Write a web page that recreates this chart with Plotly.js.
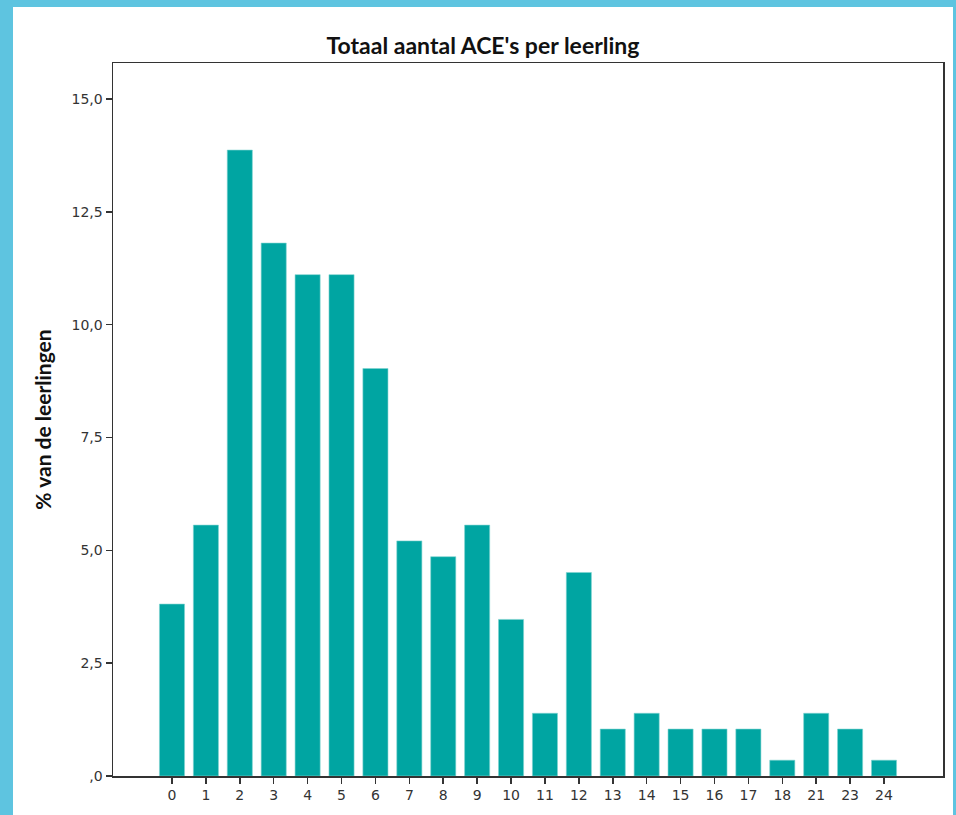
<!DOCTYPE html>
<html>
<head>
<meta charset="utf-8">
<script src="https://cdn.plot.ly/plotly-3.0.1.min.js"></script>
<style>
html,body{margin:0;padding:0;background:#5EC4E0;width:956px;height:815px;overflow:hidden;}
#chart{position:absolute;left:13px;top:7px;width:940px;height:808px;background:#fff;}
</style>
</head>
<body>
<div id="chart"></div>
<script>
const categories = ["0","1","2","3","4","5","6","7","8","9","10","11","12","13","14","15","16","17","18","21","23","24"];
const percentages = [3.81,5.56,13.87,11.81,11.11,11.11,9.03,5.21,4.86,5.56,3.47,1.39,4.51,1.04,1.39,1.04,1.04,1.04,0.35,1.39,1.04,0.35];
const yTickVals = [0,2.5,5,7.5,10,12.5,15];
const yTickText = [",0","2,5","5,0","7,5","10,0","12,5","15,0"];

const trace = {
  type: "bar",
  x: categories,
  y: percentages,
  width: 0.74,
  marker: {color: "#00A5A2", line: {color: "#7FD3D0", width: 0.6}},
  hoverinfo: "x+y"
};

const tickFont = {family: "DejaVu Sans", size: 14, color: "#333"};

const layout = {
  width: 940, height: 808,
  paper_bgcolor: "#ffffff", plot_bgcolor: "#ffffff",
  margin: {l: 100, r: 10, t: 56, b: 39},
  showlegend: false,
  title: {
    text: "<b>Totaal aantal ACE's per leerling</b>",
    font: {family: "Lato", size: 23, color: "#111"},
    xref: "container", x: 0.5, xanchor: "center",
    yref: "container", y: 1 - 39/808, yanchor: "middle"
  },
  xaxis: {
    type: "category",
    range: [-1.74, 22.74],
    showline: true, mirror: true, linecolor: "#333", linewidth: 1.5,
    ticks: "outside", ticklen: 6, tickwidth: 1.5, tickcolor: "#333",
    showgrid: false, zeroline: false,
    tickfont: tickFont
  },
  yaxis: {
    range: [0, 15.8],
    tickvals: yTickVals, ticktext: yTickText,
    showline: true, mirror: true, linecolor: "#333", linewidth: 1.5,
    ticks: "outside", ticklen: 6, tickwidth: 1.5, tickcolor: "#333",
    showgrid: false, zeroline: false,
    tickfont: tickFont,
    title: {
      text: "<b>% van de leerlingen</b>",
      font: {family: "Lato", size: 21, color: "#111"},
      standoff: 14
    }
  },
  bargap: 0.26
};

Plotly.newPlot("chart", [trace], layout, {displayModeBar: false, staticPlot: true});
</script>
</body>
</html>
